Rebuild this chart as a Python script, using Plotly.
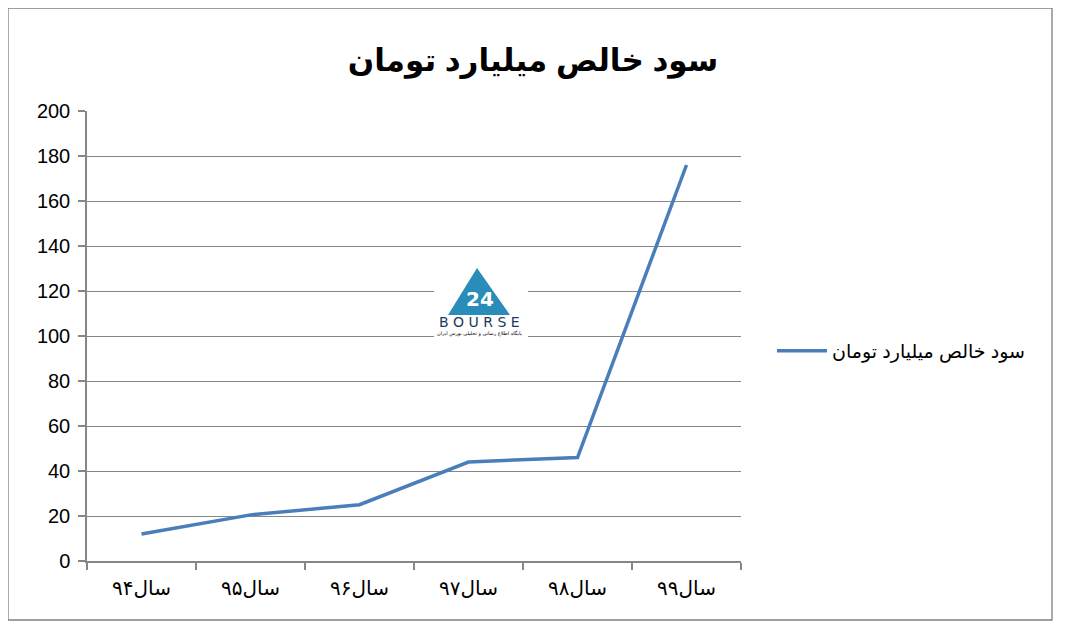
import plotly.graph_objects as go

categories = ["سال۹۴", "سال۹۵", "سال۹۶", "سال۹۷", "سال۹۸", "سال۹۹"]
values = [12, 20.5, 25, 44, 46, 176]
series_name = "سود خالص میلیارد تومان"
title_text = "سود خالص میلیارد تومان"
y_ticks = [0, 20, 40, 60, 80, 100, 120, 140, 160, 180, 200]

OFF = 8  # page body margin
W, H = 1069 - OFF, 633 - OFF
# plot area in reference pixels: x 87..741, y 111..561
L, T = 87 - OFF, 111 - OFF
R = W - (741 - OFF)
B = H - (561 - OFF)
pw, ph = W - L - R, H - T - B

def px(x):
    return (x - OFF - L) / pw

def py(y):
    return (H - B - (y - OFF)) / ph

fig = go.Figure()
fig.add_trace(go.Scatter(
    x=categories, y=values, mode="lines", name=series_name,
    line=dict(color="#4A7EBB", width=3.5),
    showlegend=True,
))

grid = "#868686"
fig.update_layout(
    width=W, height=H,
    margin=dict(l=L, r=R, t=T, b=B),
    paper_bgcolor="white", plot_bgcolor="white",
    font=dict(family="Arial, Liberation Sans, DejaVu Sans", color="black"),
    title=dict(text="<b>" + title_text + "</b>", x=px(533), xref="paper", xanchor="center",
               y=1 - (60 - OFF) / H, yanchor="middle",
               font=dict(size=31, family="Arial, Liberation Sans, DejaVu Sans", color="black")),
    xaxis=dict(type="category", range=[-0.5, 5.5], showgrid=False,
               showline=True, linecolor=grid, linewidth=1.5,
               ticks="outside", tickson="boundaries", ticklen=7, tickcolor=grid, tickwidth=1.5,
               tickfont=dict(size=20, family="Liberation Serif, DejaVu Sans"), fixedrange=True,
               ticklabelstandoff=8),
    yaxis=dict(range=[0, 200], tickvals=y_ticks, showgrid=True, gridcolor=grid, gridwidth=1.4,
               showline=True, linecolor=grid, linewidth=1.5, zeroline=False,
               ticks="outside", ticklen=7, tickcolor=grid, tickwidth=1.5,
               tickfont=dict(size=20, family="Liberation Sans, Arial"), ticklabelstandoff=4),
    legend=dict(x=px(772), xanchor="left", y=py(351), yanchor="middle",
                font=dict(size=19, family="Liberation Sans, DejaVu Sans"),
                bgcolor="rgba(0,0,0,0)", itemwidth=50),
    showlegend=True,
)

# Outer chart border
fig.add_shape(type="rect", xref="paper", yref="paper",
              x0=px(8), x1=px(1052), y0=py(620), y1=py(8),
              line=dict(color="#7F7F7F", width=1.3), fillcolor="rgba(0,0,0,0)", layer="above")

# Watermark logo approximation
fig.add_shape(type="rect", xref="paper", yref="paper",
              x0=px(434), x1=px(528), y0=py(340), y1=py(258),
              line=dict(width=0), fillcolor="white", layer="above")
fig.add_shape(type="path", xref="paper", yref="paper",
              path=f"M {px(448)},{py(315)} L {px(477)},{py(268)} L {px(510)},{py(315)} Z",
              line=dict(width=0), fillcolor="#2A8CB8", layer="above")
fig.add_annotation(text="<b>24</b>", xref="paper", yref="paper", x=px(480), y=py(299),
                   showarrow=False, font=dict(size=20, color="white", family="DejaVu Sans"))
fig.add_annotation(text="B O U R S E", xref="paper", yref="paper", x=px(480), y=py(322),
                   showarrow=False, font=dict(size=14, color="#1B3A5C", family="DejaVu Sans"))
fig.add_annotation(text="پایگاه اطلاع رسانی و تحلیلی بورس ایران", xref="paper", yref="paper",
                   x=px(480), y=py(333), showarrow=False,
                   font=dict(size=5, color="black", family="DejaVu Sans"))

fig.write_html("out.html")
